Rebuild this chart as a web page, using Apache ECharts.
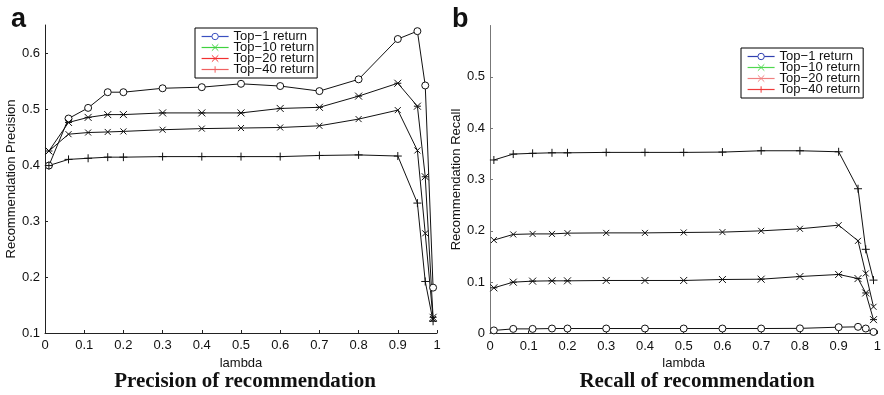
<!DOCTYPE html>
<html>
<head>
<meta charset="utf-8">
<script src="https://cdn.jsdelivr.net/npm/echarts@6/dist/echarts.min.js"></script>
<style>
html,body{margin:0;padding:0;background:#fff;}
#chart{width:884px;height:395px;}
</style>
</head>
<body>
<div id="chart"></div>
<script>
// Trade-off parameter lambda (shared x positions of every curve)
const lambda = [0.01, 0.06, 0.11, 0.16, 0.2, 0.3, 0.4, 0.5, 0.6, 0.7, 0.8, 0.9, 0.95, 0.97, 0.99];

// Precision of recommendation
const precTop1  = [0.399, 0.483, 0.502, 0.530, 0.530, 0.537, 0.539, 0.545, 0.541, 0.532, 0.553, 0.625, 0.639, 0.542, 0.181];
const precTop10 = [0.425, 0.476, 0.485, 0.490, 0.490, 0.493, 0.493, 0.493, 0.501, 0.503, 0.523, 0.546, 0.505, 0.379, 0.128];
const precTop20 = [0.425, 0.455, 0.458, 0.459, 0.460, 0.463, 0.465, 0.466, 0.467, 0.470, 0.482, 0.498, 0.426, 0.278, 0.125];
const precTop40 = [0.399, 0.410, 0.412, 0.414, 0.414, 0.415, 0.415, 0.415, 0.415, 0.417, 0.418, 0.416, 0.332, 0.192, 0.121];

// Recall of recommendation
const recTop1  = [0.006, 0.009, 0.009, 0.0097, 0.0097, 0.0097, 0.0097, 0.0097, 0.0097, 0.0097, 0.010, 0.0123, 0.013, 0.0097, 0.003];
const recTop10 = [0.089, 0.100, 0.102, 0.1026, 0.1026, 0.1033, 0.1033, 0.1033, 0.1052, 0.1058, 0.111, 0.115, 0.107, 0.079, 0.027];
const recTop20 = [0.182, 0.193, 0.194, 0.194, 0.1955, 0.196, 0.196, 0.1968, 0.1975, 0.200, 0.204, 0.211, 0.1805, 0.117, 0.052];
const recTop40 = [0.338, 0.3495, 0.351, 0.352, 0.352, 0.3528, 0.3528, 0.3528, 0.3534, 0.356, 0.356, 0.354, 0.282, 0.164, 0.104];

const seriesNames = ['Top\u22121 return', 'Top\u221210 return', 'Top\u221220 return', 'Top\u221240 return'];
const xTicks = [0, 0.1, 0.2, 0.3, 0.4, 0.5, 0.6, 0.7, 0.8, 0.9, 1];
const precTicks = [0.1, 0.2, 0.3, 0.4, 0.5, 0.6];
const recTicks = [0, 0.1, 0.2, 0.3, 0.4, 0.5];

const SANS = 'Liberation Sans, Arial, Helvetica, sans-serif';
const SERIF = 'Liberation Serif, Times New Roman, serif';
const INK = '#111';

// Marker shapes: hollow circle, asterisk, cross, plus
const markers = [
  {symbol: 'path://M10,5A5,5 0 1 1 0,5A5,5 0 1 1 10,5Z', size: 7, fill: '#fff'},
  {symbol: 'path://M0,0L10,10M10,0L0,10M0,5L10,5', size: 7, fill: INK},
  {symbol: 'path://M0,0L10,10M10,0L0,10', size: 6, fill: INK},
  {symbol: 'path://M5,0L5,10M0,5L10,5', size: 8, fill: INK}
];

function pairs(ys) { return lambda.map((x, i) => [x, ys[i]]); }

function lineSeries(name, ys, k, grid) {
  const m = markers[k];
  return {
    name: name,
    type: 'line',
    xAxisIndex: grid,
    yAxisIndex: grid,
    data: pairs(ys),
    symbol: m.symbol,
    symbolSize: m.size,
    showAllSymbol: true,
    lineStyle: {color: INK, width: 1},
    itemStyle: {color: m.fill, borderColor: INK, borderWidth: 1},
    emphasis: {disabled: true},
    z: 3
  };
}

function xAxisOf(grid) {
  return {
    type: 'value', gridIndex: grid, min: 0, max: 1, interval: 0.1,
    name: 'lambda', nameLocation: 'middle', nameGap: 17,
    nameTextStyle: {fontFamily: SANS, fontSize: 13, color: INK},
    axisLine: {lineStyle: {color: '#222', width: 1}},
    axisTick: {inside: true, length: 3, lineStyle: {color: '#222'}, customValues: xTicks},
    axisLabel: {margin: 6, fontFamily: SANS, fontSize: 13, color: INK, customValues: xTicks},
    splitLine: {show: false}
  };
}

function yAxisOf(grid, min, max, ticks, name, lineColor) {
  return {
    type: 'value', gridIndex: grid, min: min, max: max, interval: 0.1,
    name: name, nameLocation: 'middle', nameRotate: 90, nameGap: 27,
    nameTextStyle: {fontFamily: SANS, fontSize: 13, color: INK},
    axisLine: {show: true, lineStyle: {color: lineColor, width: 1}},
    axisTick: {show: true, inside: true, length: 3, lineStyle: {color: lineColor}, customValues: ticks},
    axisLabel: {margin: 5, fontFamily: SANS, fontSize: 13, color: INK, customValues: ticks},
    splitLine: {show: false}
  };
}

function legendOf(left, top, colors) {
  return {
    orient: 'vertical', left: left, top: top,
    padding: [2, 3, 2, 6], itemGap: -2, itemWidth: 27, itemHeight: 8,
    borderColor: '#000', borderWidth: 1, backgroundColor: '#fff',
    selectedMode: false,
    textStyle: {fontFamily: SANS, fontSize: 13, lineHeight: 11, color: INK},
    data: seriesNames.map((n, k) => ({
      name: n,
      itemStyle: {color: k === 0 ? '#fff' : colors[k], borderColor: colors[k], borderWidth: 1},
      lineStyle: {color: colors[k], width: 1.2}
    })),
    z: 10
  };
}

const chart = echarts.init(document.getElementById('chart'), null, {renderer: 'canvas'});
chart.setOption({
  animation: false,
  backgroundColor: '#fff',
  title: [
    {text: 'a', left: 6, top: 1, textStyle: {fontFamily: SANS, fontSize: 27, fontWeight: 'bold', color: INK}},
    {text: 'b', left: 447, top: 1, textStyle: {fontFamily: SANS, fontSize: 27, fontWeight: 'bold', color: INK}},
    {text: 'Precision of recommendation', left: 240, top: 366, textAlign: 'center',
     textStyle: {fontFamily: SERIF, fontSize: 21, fontWeight: 'bold', color: INK}},
    {text: 'Recall of recommendation', left: 692, top: 366, textAlign: 'center',
     textStyle: {fontFamily: SERIF, fontSize: 21, fontWeight: 'bold', color: INK}}
  ],
  legend: [
    legendOf(195, 28, ['#3a4fc0', '#3fd23f', '#f23030', '#f06060']),
    legendOf(741, 48, ['#2f3fb0', '#4fd84f', '#f08080', '#f03a3a'])
  ],
  grid: [
    {left: 45, top: 25, width: 392, height: 308, containLabel: false},
    {left: 490, top: 25.5, width: 391, height: 308, containLabel: false}
  ],
  xAxis: [xAxisOf(0), xAxisOf(1)],
  yAxis: [
    yAxisOf(0, 0.1, 0.65, precTicks, 'Recommendation Precision', '#222'),
    yAxisOf(1, 0, 0.6, recTicks, 'Recommendation Recall', '#777')
  ],
  series: [
    lineSeries(seriesNames[0], precTop1, 0, 0),
    lineSeries(seriesNames[1], precTop10, 1, 0),
    lineSeries(seriesNames[2], precTop20, 2, 0),
    lineSeries(seriesNames[3], precTop40, 3, 0),
    lineSeries(seriesNames[0], recTop1, 0, 1),
    lineSeries(seriesNames[1], recTop10, 1, 1),
    lineSeries(seriesNames[2], recTop20, 2, 1),
    lineSeries(seriesNames[3], recTop40, 3, 1)
  ]
});
</script>
</body>
</html>
